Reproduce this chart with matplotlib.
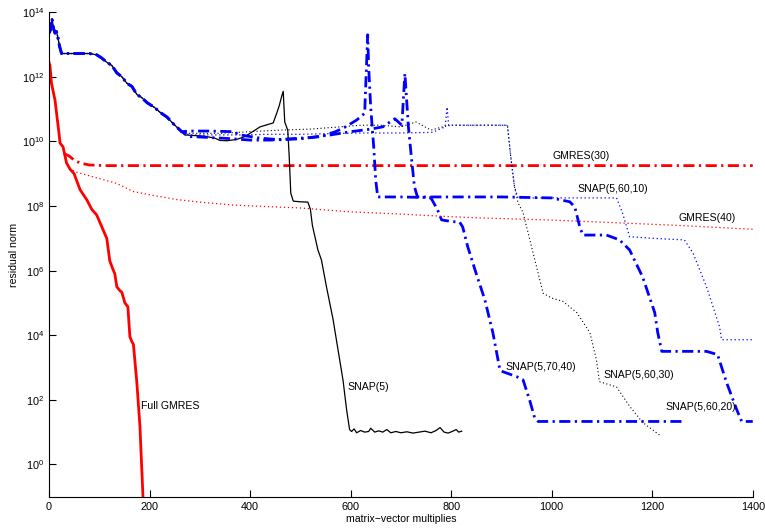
import numpy as np
import matplotlib
matplotlib.use("Agg")
import matplotlib.pyplot as plt

plt.rcParams["font.family"] = ["Liberation Sans", "DejaVu Sans"]
plt.rcParams["mathtext.fontset"] = "custom"
plt.rcParams["mathtext.rm"] = "Liberation Sans"
plt.rcParams["mathtext.it"] = "Liberation Sans:italic"
plt.rcParams["mathtext.bf"] = "Liberation Sans:bold"

# residual norms are stored as log10 values

# start shared by all SNAP runs
common_x = [0, 3, 6, 9, 12, 15, 18, 21, 25, 50, 80, 95, 105, 115, 125, 135, 145,
            155, 165, 175, 185, 195, 210, 221, 235, 247, 256, 264]
common_log = [13.35, 13.45, 13.8, 13.5, 13.35, 13.4, 13.2, 12.95, 12.72, 12.72, 12.72,
              12.68, 12.58, 12.45, 12.35, 12.12, 12.0, 11.8, 11.7, 11.45, 11.35, 11.2,
              11.05, 10.9, 10.75, 10.55, 10.42, 10.3]

full_x = [0, 2, 5, 9, 12, 16, 20, 22, 28, 35, 42, 50, 62, 75, 85, 95, 108, 115, 121,
          127, 131, 135, 141, 145, 151, 155, 157, 161, 165, 168, 175, 181, 187]
full_log = [12.45, 12.35, 11.8, 11.5, 11.28, 10.76, 10.25, 9.95, 9.83, 9.33, 9.14, 9.0,
            8.5, 8.2, 7.9, 7.72, 7.25, 7.0, 6.3, 6.05, 5.9, 5.5, 5.38, 5.33, 5.0, 4.92,
            4.88, 3.95, 3.8, 3.72, 2.5, 1.17, -1.0]

gm30_x = [30, 40, 50, 62, 80, 110, 1400]
gm30_log = [9.62, 9.55, 9.42, 9.33, 9.27, 9.25, 9.25]

gm40_x = [40, 55, 88, 135, 167, 200, 254, 300, 366, 406, 499, 598, 700, 797, 857,
          990, 1100, 1250, 1387, 1400]
gm40_log = [9.15, 9.05, 8.9, 8.7, 8.45, 8.35, 8.2, 8.12, 8.03, 8.0, 7.94, 7.82, 7.75,
            7.67, 7.63, 7.57, 7.5, 7.4, 7.29, 7.28]

snap5_x = [270, 290, 310, 330, 340, 355, 373, 390, 405, 420, 435, 446, 453, 458, 463,
           466, 469, 475, 478, 481, 486, 500, 515, 520, 524, 535, 542, 552, 565, 575,
           585, 592, 598, 602, 607, 612, 620, 628, 636, 640, 648, 656, 664, 672, 680,
           690, 700, 712, 724, 736, 748, 760, 770, 778, 786, 794, 802, 810, 815, 821]
snap5_log = [10.2, 10.18, 10.16, 10.1, 10.03, 10.02, 10.06, 10.15, 10.3, 10.45, 10.52,
             10.57, 10.87, 11.1, 11.4, 11.55, 10.6, 10.35, 9.5, 8.4, 8.15, 8.13, 8.12,
             7.9, 7.4, 6.64, 6.33, 5.5, 4.5, 3.55, 2.6, 1.7, 1.08, 1.02, 1.1, 0.98, 1.05,
             1.0, 1.02, 1.12, 1.0, 1.04, 1.0, 1.08, 0.98, 1.02, 0.98, 1.01, 0.97, 1.0,
             1.03, 0.98, 1.05, 1.14, 1.0, 0.97, 1.02, 1.08, 1.0, 1.03]

snap_70_40_x = [280, 320, 366, 380, 420, 460, 500, 540, 570, 590, 612, 628, 634, 636,
                640, 646, 650, 654, 700, 757, 761, 773, 781, 800, 817, 823, 833, 850,
                867, 883, 897, 903, 930, 943, 956, 966, 973, 1100, 1261]
snap_70_40_log = [10.32, 10.32, 10.3, 10.2, 10.1, 10.05, 10.08, 10.15, 10.3, 10.45,
                  10.66, 10.87, 13.3, 12.3, 11.06, 9.83, 8.8, 8.28, 8.28, 8.26, 8.22,
                  7.88, 7.57, 7.52, 7.5, 7.35, 6.74, 5.9, 5.1, 4.08, 2.93, 2.87, 2.72,
                  2.62, 2.0, 1.45, 1.33, 1.33, 1.33]

snap_60_20_x = [280, 320, 366, 400, 440, 480, 520, 560, 600, 640, 664, 688, 702, 708,
                711, 715, 721, 727, 733, 800, 900, 1000, 1036, 1046, 1056, 1062, 1109,
                1135, 1155, 1181, 1205, 1211, 1219, 1308, 1330, 1348, 1368, 1378, 1400]
snap_60_20_log = [10.15, 10.12, 10.08, 10.04, 10.04, 10.08, 10.12, 10.2, 10.3, 10.38,
                  10.45, 10.7, 10.5, 12.1, 11.4, 10.45, 9.5, 8.6, 8.28, 8.28, 8.28,
                  8.25, 8.13, 7.97, 7.35, 7.1, 7.1, 6.95, 6.64, 5.8, 4.7, 4.08, 3.5,
                  3.5, 3.4, 2.53, 1.7, 1.33, 1.33]

snap_60_10_x = [280, 320, 380, 440, 500, 560, 620, 700, 763, 788, 792, 795, 850, 912,
                913, 920, 926, 933, 1000, 1129, 1141, 1155, 1200, 1264, 1281, 1308,
                1334, 1338, 1400]
snap_60_10_log = [10.2, 10.2, 10.2, 10.22, 10.22, 10.24, 10.26, 10.26, 10.28, 10.45,
                  11.06, 10.5, 10.5, 10.5, 10.35, 9.33, 8.6, 8.25, 8.25, 8.25, 7.78,
                  7.05, 7.0, 6.95, 6.55, 5.5, 4.26, 3.86, 3.86]

snap_60_30_x = [280, 340, 400, 460, 520, 580, 620, 660, 700, 730, 760, 783, 800, 850,
                912, 918, 926, 933, 943, 963, 983, 1000, 1022, 1050, 1076, 1089, 1095,
                1129, 1155, 1181, 1218]
snap_60_30_log = [10.25, 10.25, 10.3, 10.35, 10.38, 10.45, 10.5, 10.5, 10.45, 10.6,
                  10.35, 10.45, 10.5, 10.5, 10.5, 9.6, 8.6, 8.1, 7.8, 6.55, 5.3, 5.15,
                  5.05, 4.7, 4.08, 3.24, 2.56, 2.4, 1.8, 1.3, 0.87]

labels = ["GMRES(30)", "SNAP(5,60,10)", "GMRES(40)", "SNAP(5,70,40)",
          "SNAP(5,60,30)", "SNAP(5,60,20)", "SNAP(5)", "Full GMRES"]
label_x = [1002, 1052, 1252, 909, 1103, 1227, 594, 183]
label_log = [9.55, 8.53, 7.63, 3.03, 2.78, 1.79, 2.4, 1.82]


def with_start(x, lg):
    xs = np.array(common_x + x, dtype=float)
    ys = 10.0 ** np.array(common_log + lg)
    return xs, ys


fig = plt.figure(figsize=(7.65, 5.29), dpi=100)
ax = fig.add_axes([0.064, 0.061, 0.920, 0.916])

dash_dot = (0, (4, 1.6, 0.8, 1.6))
dotted = (0, (1, 2.2))

ax.plot(gm40_x, 10.0 ** np.array(gm40_log), color="red", lw=0.9, ls=dotted)
ax.plot(gm30_x, 10.0 ** np.array(gm30_log), color="red", lw=2.0, ls=dash_dot)

xs, ys = with_start(snap_60_30_x, snap_60_30_log)
ax.plot(xs, ys, color="black", lw=0.8, ls=dotted)
xs, ys = with_start(snap_60_10_x, snap_60_10_log)
ax.plot(xs, ys, color="blue", lw=0.9, ls=dotted)
xs, ys = with_start(snap5_x, snap5_log)
ax.plot(xs, ys, color="black", lw=0.9)
xs, ys = with_start(snap_60_20_x, snap_60_20_log)
ax.plot(xs, ys, color="blue", lw=2.0, ls=dash_dot)
xs, ys = with_start(snap_70_40_x, snap_70_40_log)
ax.plot(xs, ys, color="blue", lw=2.0, ls=dash_dot)

ax.plot(full_x, 10.0 ** np.array(full_log), color="red", lw=2.0)

for txt, lx, ly in zip(labels, label_x, label_log):
    ax.text(lx, 10.0 ** ly, txt, fontsize=7.6, ha="left", va="center")

ax.set_yscale("log")
ax.set_xlim(0, 1400)
ax.set_ylim(1e-1, 1e14)
ax.set_xticks(range(0, 1401, 200))
ax.set_yticks([10.0 ** k for k in range(0, 15, 2)])
ax.yaxis.set_minor_locator(matplotlib.ticker.NullLocator())
ax.tick_params(direction="in", length=5, width=0.8, labelsize=7.8)
ax.tick_params(axis="x", pad=4)
for side in ("top", "right"):
    ax.spines[side].set_visible(False)
for side in ("left", "bottom"):
    ax.spines[side].set_linewidth(0.8)

ax.set_xlabel("matrix\u2212vector multiplies", fontsize=7.6, labelpad=1)
ax.set_ylabel("residual norm", fontsize=7.6, labelpad=2)

fig.savefig("out.png", dpi=100)
